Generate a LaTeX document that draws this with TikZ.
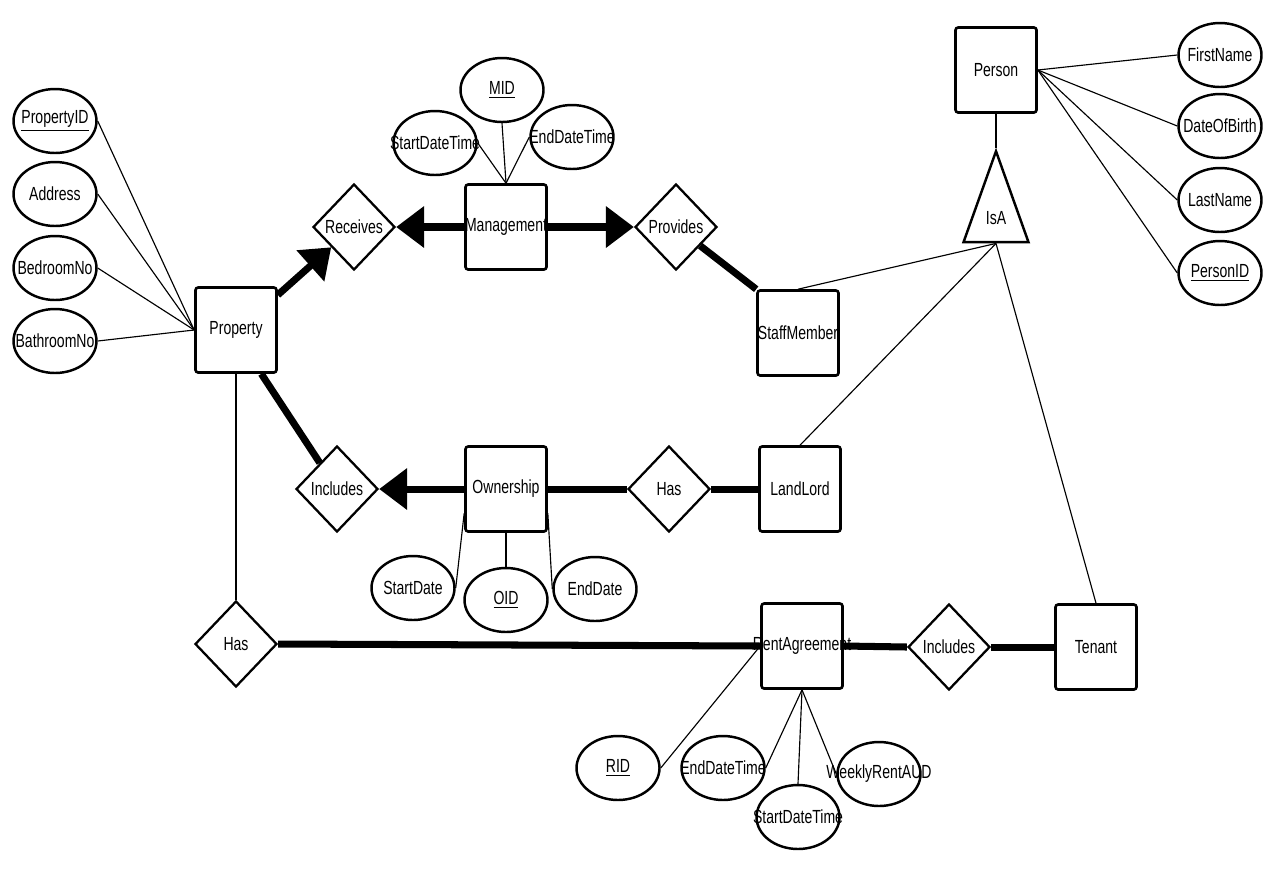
\documentclass[tikz,border=0pt]{standalone}
\usepackage{fontspec}
\setmainfont[FakeStretch=0.74]{Liberation Sans}
\usetikzlibrary{arrows.meta, shapes.geometric}
\newcommand{\nm}[1]{\makebox[0pt]{#1}}
\tikzset{
  every picture/.style={font=\fontsize{10.8}{12}\selectfont, line width=0.6pt},
  entity/.style={draw, rectangle, rounded corners=1.5pt, line width=1.5pt, minimum width=1.62cm, minimum height=1.7cm, inner sep=0pt},
  attr/.style={draw, ellipse, line width=1.4pt, minimum width=1.66cm, minimum height=1.28cm, inner sep=0pt},
  rel/.style={draw, diamond, line width=1.3pt, minimum width=1.64cm, minimum height=1.72cm, inner sep=0pt},
  isa/.style={draw, isosceles triangle, shape border rotate=90, isosceles triangle stretches, line width=1.4pt, minimum width=1.3cm, minimum height=1.82cm, inner sep=0pt},
  link/.style={draw, line width=0.65pt},
  heavy/.style={draw, line width=4pt},
  heavyarrow/.style={heavy, -{Triangle[length=0.56cm, width=0.8cm]}},
}
\begin{document}
\begin{tikzpicture}[x=0.02cm, y=-0.02cm]
  \useasboundingbox (0,0) rectangle (1280,870);
  % entities
  \node[entity] (prop) at (236,330) {\nm{Property}};
  \node[entity] (mgmt) at (506,227) {\nm{Management}};
  \node[entity] (staff) at (798,333) {\nm{StaffMember}};
  \node[entity] (person) at (996,70) {\nm{Person}};
  \node[entity] (own) at (506,489) {\nm{Ownership}};
  \node[entity] (ll) at (800,489) {\nm{LandLord}};
  \node[entity] (ra) at (802,646) {\nm{RentAgreement}};
  \node[entity] (ten) at (1096,647) {\nm{Tenant}};
  % relationships
  \node[rel] (rec) at (354,227) {\nm{Receives}};
  \node[rel] (prov) at (676,227) {\nm{Provides}};
  \node[rel] (incl) at (337,489) {\nm{Includes}};
  \node[rel] (has) at (669,489) {\nm{Has}};
  \node[rel] (hasb) at (236,644) {\nm{Has}};
  \node[rel] (incr) at (949,647) {\nm{Includes}};
  \node[isa, anchor=apex] (gen) at (996,148) {\raisebox{4pt}{IsA}};
  % attributes
  \foreach \t/\y [count=\i] in {{\underline{PropertyID}}/121, Address/194, BedroomNo/268, BathroomNo/341} {
    \node[attr] (pa\i) at (55,\y) {\nm{\t}};
    \draw[link] (pa\i.east) -- (prop.west);
  }
  \foreach \t/\y [count=\i] in {FirstName/55, DateOfBirth/126, LastName/200, {\underline{PersonID}}/273} {
    \node[attr] (ca\i) at (1220,\y) {\nm{\t}};
    \draw[link] (person.east) -- (ca\i.west);
  }
  \node[attr] (mid) at (502,90) {\nm{\underline{MID}}};
  \node[attr] (msdt) at (435,143) {\nm{StartDateTime}};
  \node[attr] (medt) at (572,137) {\nm{EndDateTime}};
  \node[attr] (osd) at (413,588) {\nm{StartDate}};
  \node[attr] (oid) at (506,600) {\nm{\underline{OID}}};
  \node[attr] (oed) at (595,589) {\nm{EndDate}};
  \node[attr] (rid) at (618,768) {\nm{\underline{RID}}};
  \node[attr] (redt) at (723,768) {\nm{EndDateTime}};
  \node[attr] (rsdt) at (798,817) {\nm{StartDateTime}};
  \node[attr] (wr) at (879,774) {\nm{WeeklyRentAUD}};
  % attribute links
  \draw[link] (mid.south) -- (mgmt.north);
  \draw[link] (msdt.east) -- (mgmt.north);
  \draw[link] (medt.west) -- (mgmt.north);
  \draw[link] (osd.east) -- (own.-150);
  \draw[link] (oid.north) -- (own.south);
  \draw[link] (oed.west) -- (own.-30);
  \draw[link] (rid.east) -- (ra.west);
  \draw[link] (redt.east) -- (ra.south);
  \draw[link] (rsdt.north) -- (ra.south);
  \draw[link] (wr.west) -- (ra.south);
  % generalisation
  \draw[link] (person.south) -- (gen.apex);
  \draw[link] (gen.lower side) -- (staff.north);
  \draw[link] (gen.lower side) -- (ll.north);
  \draw[link] (gen.lower side) -- (ten.north);
  % participation
  \draw[heavyarrow] (prop.40) -- (rec);
  \draw[heavyarrow] (mgmt.west) -- (rec.east);
  \draw[heavyarrow] (mgmt.east) -- (prov.west);
  \draw[heavy] (prov) -- (staff.north west);
  \draw[heavy] (prop.-60) -- (incl);
  \draw[heavyarrow] (own.west) -- (incl.east);
  \draw[heavy] (own.east) -- (has.west);
  \draw[heavy] (has.east) -- (ll.west);
  \draw[link] (prop.south) -- (hasb.north);
  \draw[heavy] (hasb.east) -- (ra.west);
  \draw[heavy] (ra.east) -- (incr.west);
  \draw[heavy] (incr.east) -- (ten.west);
\end{tikzpicture}
\end{document}
